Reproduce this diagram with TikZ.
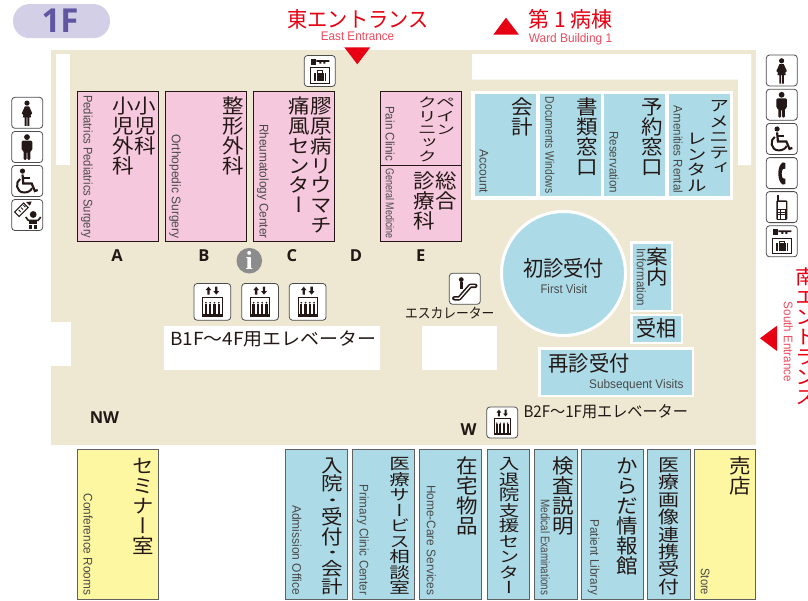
\documentclass[tikz,border=0pt]{standalone}
\usepackage{fontspec}
\usepackage{graphicx}
\setmainfont{Liberation Sans}
\newfontfamily\jpf{Noto Sans CJK JP}
\newfontfamily\vjpf[RawFeature={+vert}]{Noto Sans CJK JP}
\newfontfamily\labf{Open Sans}
\newfontfamily\serf{Liberation Serif}
\definecolor{beige}{HTML}{EEE8D3}
\definecolor{pinkroom}{HTML}{F5C8DD}
\definecolor{blueroom}{HTML}{ACDBE7}
\definecolor{yellowroom}{HTML}{FEF7A2}
\definecolor{badge}{HTML}{D3CFE6}
\definecolor{badgetx}{HTML}{5F55A0}
\definecolor{redmark}{HTML}{E60012}
\definecolor{redlight}{HTML}{EE4A5E}
\definecolor{ink}{HTML}{231815}
\definecolor{entx}{HTML}{4A4A4A}
\newsavebox\fitbox
\newlength\fitlen
% stretch a text to an exact width
\newcommand\fit[2]{\sbox\fitbox{\rule[-.2em]{0pt}{1em}#2}\setlength\fitlen{\wd\fitbox}\pgfmathsetmacro\fitr{(#1)/\fitlen}\scalebox{\fitr}[1]{\usebox\fitbox}}
% vertical stacking of glyphs
\def\vtloop#1{\ifx#1\relax\let\vtnext\relax\else
  \vbox to \vtpitch{\vss\hbox to \vtfs{\hss\scalebox{1}[\vtr]{\rule[-.12em]{0pt}{1em}#1}\hss}\vss}\let\vtnext\vtloop\fi\vtnext}
\newcommand\vt[5][21.5]{\node[anchor=north,inner sep=0pt,text=ink] at (#2,#3) {\def\vtpitch{#4pt}\def\vtfs{#1pt}\pgfmathsetmacro\vtr{min(1,#4/#1)}\fontsize{#1}{#1}\vjpf\selectfont\vbox{\offinterlineskip\vtloop#5\relax}};}
% rotated latin label: x, y1, y2, text
\newcommand\en[5][12.5]{\node[anchor=west,rotate=-90,inner sep=0pt,text=entx,font=\fontsize{#1}{#1}\selectfont] at (#2,#3) {\fit{#4-#3}{#5}};}
% horizontal text: x1,x2,y,size,colour,text
\newcommand\hz[6]{\node[anchor=west,inner sep=0pt,text=#5,font=\fontsize{#4}{#4}\selectfont] at (#1,#3) {\fit{#2-#1}{#6}};}
\tikzset{
 room/.style={draw=ink,line width=.9pt},
 roomb/.style={draw=black!62,line width=.9pt},
 lab/.style={inner sep=0pt,text=ink,font=\fontsize{16.5}{16.5}\labf\bfseries\selectfont},
 iconbg/.style={draw=black!70,fill=white,line width=.8pt,rounded corners=3.2pt},
 pics/woman/.style={code={\draw[iconbg] (0,0) rectangle (31,31);
   \fill[ink] (15.3,5.8) circle[radius=2.6];
   \fill[ink] (13.2,9) -- (17.4,9) -- (20.5,16) -- (19,17.5) -- (18.2,15) -- (19.5,20) -- (17.6,20) -- (17.6,28.5) -- (15.7,28.5) -- (15.7,20) -- (14.9,20) -- (14.9,28.5) -- (13,28.5) -- (13,20) -- (11.1,20) -- (12.4,15) -- (11.6,17.5) -- (10.1,16) -- cycle;}},
 pics/man/.style={code={\draw[iconbg] (0,0) rectangle (31,31);
   \fill[ink] (15.3,5.6) circle[radius=2.9];
   \fill[ink,rounded corners=1.2pt] (10,9.2) -- (20.6,9.2) -- (20.6,19) -- (18.6,19) -- (18.6,28.5) -- (15.7,28.5) -- (15.7,20) -- (14.9,20) -- (14.9,28.5) -- (12,28.5) -- (12,19) -- (10,19) -- cycle;}},
 pics/wheel/.style={code={\draw[iconbg] (0,0) rectangle (31,31);
   \fill[ink] (10.8,5.6) circle[radius=2.6];
   \draw[ink,line width=2.2pt] (10.8,9) -- (11.6,18) -- (20,18) -- (23.2,25.5) -- (26,24.5);
   \draw[ink,line width=1.6pt] (11,12.5) -- (18,12.5);
   \draw[ink,line width=2pt] (8.5,13.5) .. controls (3.5,16) and (4,27) .. (12.5,27) .. controls (16.5,27) and (19.5,25) .. (20.3,22.5);}},
 pics/baby/.style={code={\draw[iconbg] (0,0) rectangle (31,31);
   \draw[ink,line width=1pt,fill=white] (3,12.5) -- (7.5,17) -- (16.5,8) -- (12,3.5) -- cycle;
   \foreach \a in {0,1,2} \draw[ink,line width=.8pt] (7+2.4*\a,10.5-2.4*\a) -- (9+2.4*\a,12.5-2.4*\a);
   \fill[ink] (14.5,2.5) -- (18.2,6.2) -- (20,2) -- cycle;
   \fill[ink] (21.5,15) circle[radius=3.4];
   \draw[ink,line width=1.6pt] (14,17.5) -- (16.5,20.8) -- (26.5,20.8) -- (29,17.5);
   \fill[ink] (17.5,20.5) rectangle (25.5,24.5);
   \fill[ink] (17.5,25.5) rectangle (20.5,29);
   \fill[ink] (22.5,25.5) rectangle (25.5,29);}},
 pics/phone/.style={code={\draw[iconbg] (0,0) rectangle (31,31);
   \fill[ink] (16.5,4.8) -- (19,5.4) -- (19,11) -- (16.5,11.6) .. controls (15,14) and (15,18) .. (16.5,20.6) -- (19,21.2) -- (19,26.4) -- (16.5,27) .. controls (10.5,24) and (10.5,8) .. (16.5,4.8) -- cycle;}},
 pics/cell/.style={code={\draw[iconbg] (0,0) rectangle (31,31);
   \fill[ink] (10.8,3.5) rectangle (13,9);
   \fill[ink,rounded corners=1pt] (10,8.8) rectangle (21,28.3);
   \fill[white] (11.8,10.8) rectangle (19.2,17);
   \foreach \i in {0,1,2} \foreach \j in {0,1,2,3} \fill[white] (12+2.5*\i,18.8+2.2*\j) rectangle (13.9+2.5*\i,20.5+2.2*\j);}},
 pics/locker/.style={code={\draw[iconbg] (0,0) rectangle (31,31);
   \fill[ink] (6.3,3.6) rectangle (12,9);
   \fill[ink] (12,4.6) -- (25,4.6) -- (25,6.4) -- (21,6.4) -- (21,8) -- (19,8) -- (19,6.4) -- (17,6.4) -- (17,8) -- (15,8) -- (15,6.4) -- (12,6.4) -- cycle;
   \draw[ink,line width=1pt] (5.8,12.2) rectangle (25.5,27.8);
   \fill[ink] (9.7,17.3) rectangle (21.6,25.6);
   \draw[ink,line width=1pt] (13,17.3) -- (13,15.4) -- (18.3,15.4) -- (18.3,17.3);
   \fill[white] (11.4,17.3) rectangle (12,25.6);
   \fill[white] (19.3,17.3) rectangle (19.9,25.6);}},
 pics/elev/.style={code={\draw[iconbg] (0,0) rectangle (31,31);
   \fill[ink] (9.8,5.6) -- (12.2,2.7) -- (14.6,5.6) -- (13.2,5.6) -- (13.2,9.4) -- (11.2,9.4) -- (11.2,5.6) -- cycle;
   \fill[ink] (16.4,6.5) -- (18.8,9.4) -- (21.2,6.5) -- (19.8,6.5) -- (19.8,2.7) -- (17.8,2.7) -- (17.8,6.5) -- cycle;
   \draw[ink,line width=.8pt] (7.4,11.6) rectangle (23.6,27.6);
   \fill[ink] (7.4,25.6) rectangle (23.6,27.6);
   \foreach \i in {0,1,2,3} {\fill[ink] (10.1+3.6*\i,16.2) circle[radius=.8];
      \fill[ink] (9.1+3.6*\i,17.3) rectangle (11.1+3.6*\i,26);}
   }},
 pics/escal/.style={code={\draw[iconbg] (0,0) rectangle (31,31);
   \fill[ink] (12,6.3) circle[radius=2.4];
   \fill[ink] (10.2,9) rectangle (14,15.5);
   \draw[ink,line width=4.4pt,line cap=round,line join=round] (5,25) -- (10,25) -- (21,12.5) -- (26,12.5);
   \draw[white,line width=1.3pt,line join=round] (5,25) -- (10,25) -- (21,12.5) -- (26,12.5);}},
}
\begin{document}
\begin{tikzpicture}[x=1pt,y=-1pt]
\useasboundingbox (0,0) rectangle (808,600);
\clip (0,0) rectangle (808,600);
\fill[white] (0,0) rectangle (808,600);
% floor
\fill[beige] (51,50) rectangle (756,445);
\fill[white] (56,54) rectangle (70,165);
\fill[white] (51,322) rectangle (71.3,366);
\fill[white] (472,54) -- (751,54) -- (751,165) -- (738,165) -- (738,79.5) -- (472,79.5) -- cycle;
\fill[white] (164,326) rectangle (380,370);
\fill[white] (422,326) rectangle (497,370);
% pink rooms
\foreach \a/\b in {77.5/158.5,165.5/246.5,253.5/334.5,380.5/461.5}
  \draw[room,fill=pinkroom] (\a,91.5) rectangle (\b,241.5);
\draw[room] (380.5,165) -- (461.5,165);
% blue counter row
\fill[white] (471,91) rectangle (733,200);
\foreach \a/\b in {475/536,540/601,604/665,669/730}
  \fill[blueroom] (\a,94) rectangle (\b,196);
\draw[white,line width=3pt,fill=blueroom] (563.5,273.5) circle[radius=62];
\fill[white] (630.3,241) rectangle (673,311.7);
\fill[blueroom] (632.5,244) rectangle (671,310);
\fill[white] (630.3,314) rectangle (682.7,344.3);
\fill[blueroom] (632.5,316) rectangle (681,342);
\fill[white] (538,347) rectangle (694,397.3);
\fill[blueroom] (541,349.7) rectangle (691.5,395);
% bottom rooms
\draw[roomb,fill=yellowroom] (77.5,449.3) rectangle (158.5,599.4);
\foreach \a/\b in {285.7/347.7,352.7/414.7,419.7/481.7,487/529.7,534.7/577.3,581.7/643.7,647.3/690}
  \draw[roomb,fill=blueroom] (\a,449.3) rectangle (\b,599.4);
\draw[roomb,fill=yellowroom] (694.3,449.3) rectangle (755.7,599.4);
% badge
\fill[badge,rounded corners=16.9pt] (13,4) rectangle (110,38.2);
\node[inner sep=0pt,text=badgetx,font=\fontsize{33}{33}\labf\bfseries\selectfont] at (60,20.5) {1F};
% entrances
\fill[redmark] (344.3,47.3) -- (370.3,47.3) -- (357.3,64.3) -- cycle;
\fill[redmark] (493.3,34.7) -- (519,34.7) -- (506,17.7) -- cycle;
\fill[redmark] (760,338.3) -- (777,325.7) -- (777,351) -- cycle;
\hz{287.3}{428.3}{20.7}{21.5}{redmark}{\jpf 東エントランス}
\hz{320.7}{394}{36.7}{12.5}{redlight}{East Entrance}
\hz{528.3}{612.3}{20.7}{21.5}{redmark}{\jpf 第 1 病棟}
\hz{528.7}{612}{38.7}{12.5}{redlight}{Ward Building 1}
\node[anchor=west,rotate=-90,inner sep=0pt,text=redlight,font=\fontsize{12.5}{12.5}\selectfont] at (787.7,301.7) {\fit{80}{South Entrance}};
\node[anchor=north,inner sep=0pt] at (806.5,267) {\def\vtpitch{20pt}\def\vtfs{21.5pt}\def\vtr{.93}\fontsize{21.5}{21.5}\vjpf\selectfont\color{redmark}\vbox{\offinterlineskip\vtloop 南エントランス\relax}};
% pink room texts
\vt{145.7}{96}{20}{小児科}
\vt{123.3}{96}{20}{小児外科}
\en{87.3}{95}{238.3}{Pediatrics Pediatrics Surgery}
\vt{233.3}{96}{20}{整形外科}
\en{175.7}{134.3}{238.3}{Orthopedic Surgery}
\vt{321}{96}{19.8}{膠原病リウマチ}
\vt{299}{96}{19.8}{痛風センター}
\en{263.3}{124}{238.5}{Rheumatology Center}
\vt[19]{445.7}{96}{13.2}{ペイン}
\vt[19]{427.3}{96}{13.3}{クリニック}
\vt{446.7}{171}{20}{総合}
\vt{424.3}{171}{20}{診療科}
\en{389.3}{106}{161}{Pain Clinic}
\en[11.5]{389.3}{168.3}{238.3}{General Medicine}
% blue row texts
\vt{522.7}{97}{20}{会計}
\en{483.3}{149}{193}{Account}
\vt{587.7}{97}{20}{書類窓口}
\en{549}{96.7}{193.3}{Documents Windows}
\vt{652.3}{97}{20}{予約窓口}
\en{613.3}{131}{193}{Reservation}
\vt[20]{719}{98}{15.5}{アメニティ}
\vt[20]{696.7}{131}{15.5}{レンタル}
\en{677.3}{105.7}{193}{Amenities Rental}
% reception
\hz{523}{604}{270}{21.5}{ink}{\jpf 初診受付}
\hz{540.3}{587}{290}{12.5}{entx}{First Visit}
\vt{657.7}{247}{20}{案内}
\en{640.7}{248.3}{306}{Information}
\hz{636}{676}{329.3}{21.5}{ink}{\jpf 受相}
\hz{548.3}{629.3}{364.3}{21.5}{ink}{\jpf 再診受付}
\hz{589}{683.3}{385}{12.5}{entx}{Subsequent Visits}
% elevators, captions
\hz{170}{376}{340}{18}{ink}{\jpf B1F～4F用エレベーター}
\hz{523.3}{687.7}{412.7}{16}{ink}{\jpf B2F～1F用エレベーター}
\hz{405}{494.3}{314.3}{14}{ink}{\jpf エスカレーター}
% bottom texts
\vt{143.3}{456}{20}{セミナー室}
\en{87.3}{493.3}{595}{Conference Rooms}
\vt{332.7}{455.5}{18.7}{入院}
\vt{332.7}{493}{13.5}{・}
\vt{332.7}{506.5}{20}{受付}
\vt{332.7}{546.3}{13}{・}
\vt{332.7}{559}{18}{会計}
\en{296}{505}{595}{Admission Office}
\vt[20.5]{399.5}{456}{15.5}{医療サービス相談室}
\en{363.3}{484.3}{595}{Primary Clinic Center}
\vt{467}{456}{20}{在宅物品}
\en{430.7}{485}{595}{Home-Care Services}
\vt[20.5]{509}{456}{15.5}{入退院支援センター}
\vt{563.7}{456}{20}{検査説明}
\en{544.7}{499.3}{595}{Medical Examinations}
\vt{627.7}{456}{20}{からだ情報館}
\en{594}{519.3}{595}{Patient Library}
\vt[21]{669.3}{456}{17.4}{医療画像連携受付}
\vt{740.7}{455.5}{20}{売店}
\en{704.7}{568.3}{595}{Store}
% letters
\node[lab] at (117,256) {A};
\node[lab] at (204,256) {B};
\node[lab] at (292,256) {C};
\node[lab] at (356,256) {D};
\node[lab] at (420.7,256) {E};
\node[lab] at (104.5,417.5) {NW};
\node[lab] at (468.5,430) {W};
% info
\fill[black!45] (249.3,260.7) circle[radius=12.8];
\node[inner sep=0pt,text=white,font=\fontsize{26}{26}\serf\bfseries\selectfont] at (249.3,260.2) {i};
% icons
\pic[scale=1] at (11.7,97.3) {woman};
\pic[scale=1] at (11.7,131.5) {man};
\pic[scale=1] at (11.7,165.5) {wheel};
\pic[scale=1] at (11.7,199.5) {baby};
\pic[scale=1] at (766.3,55) {woman};
\pic[scale=1] at (766.3,89.2) {man};
\pic[scale=1] at (766.3,123.4) {wheel};
\pic[scale=1] at (766.3,157.6) {phone};
\pic[scale=1] at (766.3,191.6) {cell};
\pic[scale=1] at (766.3,225.8) {locker};
\pic[scale=1] at (304.3,55.5) {locker};
\pic[scale=1] at (449.3,273.3) {escal};
\pic[scale=1.185] at (194,283.5) {elev};
\pic[scale=1.185] at (241.7,283.5) {elev};
\pic[scale=1.185] at (289.3,283.5) {elev};
\pic[scale=1] at (486.7,407) {elev};
\end{tikzpicture}
\end{document}
